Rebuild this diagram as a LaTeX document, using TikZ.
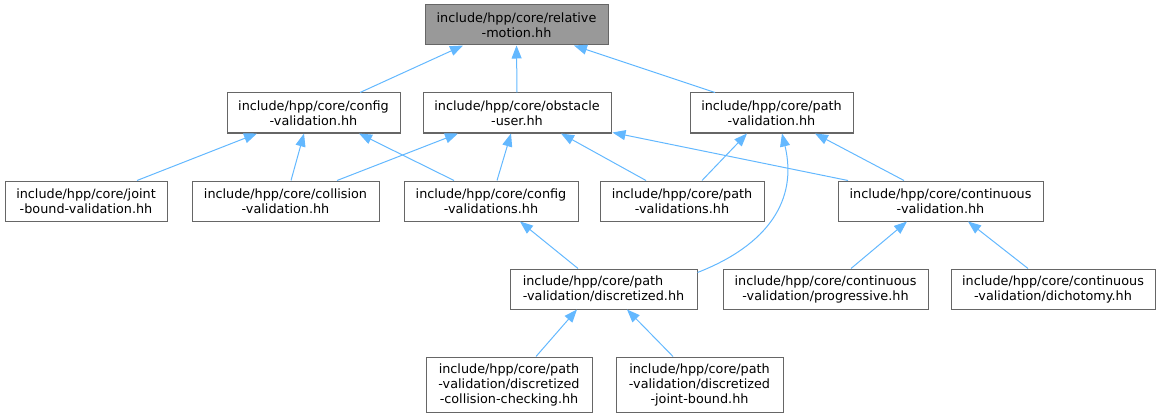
\documentclass[tikz,border=0pt]{standalone}
\usepackage{fontspec}
\setmainfont{DejaVu Sans}
\usetikzlibrary{arrows.meta}
\definecolor{edgeblue}{HTML}{63B8FF}
\definecolor{boxborder}{HTML}{666666}
\definecolor{rootfill}{HTML}{999999}
\tikzset{
  filebox/.style={draw=boxborder, line width=1pt, fill=white, inner sep=0pt,
    align=center, font=\fontsize{12.8}{15}\selectfont, text=black},
  rootbox/.style={filebox, fill=rootfill},
  dep/.style={draw=edgeblue, line width=1pt,
    -{Triangle[length=13pt,width=10pt,fill=edgeblue]}}
}
\begin{document}
\begin{tikzpicture}[x=1pt,y=-1pt]
\useasboundingbox (0,0) rectangle (1161,417);
% row 1
\node[rootbox, minimum width=183pt, minimum height=40pt] (root) at (516.5,25) {include/hpp/core/relative\\-motion.hh};
% row 2
\node[filebox, minimum width=173pt, minimum height=40pt] (cv) at (313.5,113) {include/hpp/core/config\\-validation.hh};
\node[filebox, minimum width=188pt, minimum height=40pt] (ou) at (517,113) {include/hpp/core/obstacle\\-user.hh};
\node[filebox, minimum width=163pt, minimum height=40pt] (pv) at (771.5,113) {include/hpp/core/path\\-validation.hh};
% row 3
\node[filebox, minimum width=162pt, minimum height=40pt] (jb) at (86,201) {include/hpp/core/joint\\-bound-validation.hh};
\node[filebox, minimum width=187pt, minimum height=40pt] (col) at (285.5,201) {include/hpp/core/collision\\-validation.hh};
\node[filebox, minimum width=174pt, minimum height=40pt] (cvs) at (491,201) {include/hpp/core/config\\-validations.hh};
\node[filebox, minimum width=164pt, minimum height=40pt] (pvs) at (682,201) {include/hpp/core/path\\-validations.hh};
\node[filebox, minimum width=205pt, minimum height=40pt] (cont) at (940.5,201) {include/hpp/core/continuous\\-validation.hh};
% row 4
\node[filebox, minimum width=187pt, minimum height=40pt, align=left] (disc) at (603.5,289) {include/hpp/core/path\\-validation/discretized.hh};
\node[filebox, minimum width=205pt, minimum height=40pt] (prog) at (825.5,289) {include/hpp/core/continuous\\-validation/progressive.hh};
\node[filebox, minimum width=204pt, minimum height=40pt] (dich) at (1053,289) {include/hpp/core/continuous\\-validation/dichotomy.hh};
% row 5
\node[filebox, minimum width=166pt, minimum height=55pt] (cc) at (509,384.5) {include/hpp/core/path\\-validation/discretized\\-collision-checking.hh};
\node[filebox, minimum width=167pt, minimum height=55pt] (jbd) at (699.5,384.5) {include/hpp/core/path\\-validation/discretized\\-joint-bound.hh};
% edges
\draw[dep] ([xshift=46.5pt]cv.north) -- ([xshift=-53.5pt]root.south);
\draw[dep] (ou.north) -- (root.south);
\draw[dep] ([xshift=-56.5pt]pv.north) -- ([xshift=57.5pt]root.south);
\draw[dep] ([xshift=51pt]jb.north) -- ([xshift=-56.5pt]cv.south);
\draw[dep] ([xshift=5.5pt]col.north) -- ([xshift=-9.5pt]cv.south);
\draw[dep] ([xshift=-37pt]cvs.north) -- ([xshift=45.5pt]cv.south);
\draw[dep] ([xshift=51.5pt]col.north) -- ([xshift=-59pt]ou.south);
\draw[dep] ([xshift=6pt]cvs.north) -- ([xshift=-6pt]ou.south);
\draw[dep] ([xshift=-36pt]pvs.north) -- ([xshift=44pt]ou.south);
\draw[dep] ([xshift=-92.5pt]cont.north) -- ([xshift=1pt,yshift=1pt]ou.south east);
\draw[dep] ([xshift=20pt]pvs.north) -- ([xshift=-24.5pt]pv.south);
\draw[dep] ([xshift=-36.5pt]cont.north) -- ([xshift=43.5pt]pv.south);
\draw[dep] ([yshift=-4pt]disc.north east) .. controls (768,245) and (798,200) .. ([xshift=10.5pt]pv.south);
\draw[dep] ([xshift=-25.5pt]disc.north) -- ([xshift=29pt]cvs.south);
\draw[dep] ([xshift=25.5pt]prog.north) -- ([xshift=-33.5pt]cont.south);
\draw[dep] ([xshift=-25pt]dich.north) -- ([xshift=27.5pt]cont.south);
\draw[dep] ([xshift=27pt]cc.north) -- ([xshift=-26.5pt]disc.south);
\draw[dep] ([xshift=-26.5pt]jbd.north) -- ([xshift=23.5pt]disc.south);
\end{tikzpicture}
\end{document}
